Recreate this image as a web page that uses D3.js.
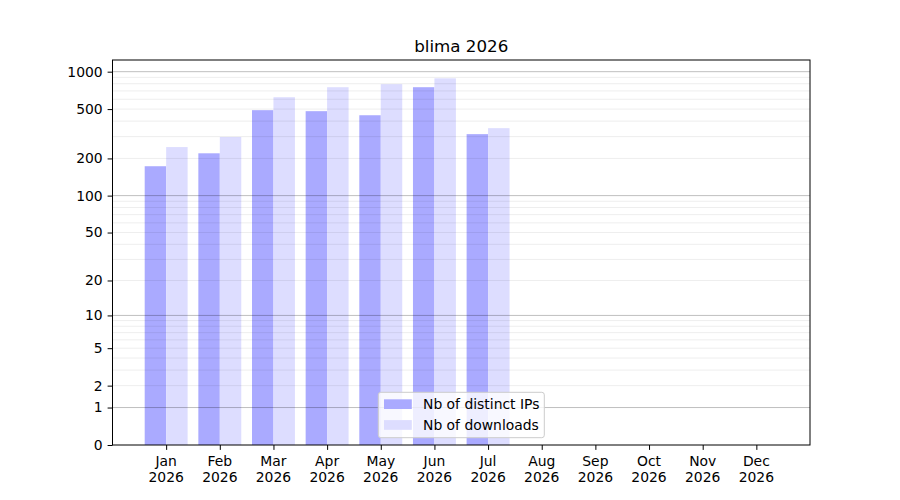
<!DOCTYPE html>
<html>
<head>
<meta charset="utf-8">
<script src="https://cdn.jsdelivr.net/npm/d3@7"></script>
<style>
  body { margin: 0; background: #fff; }
  text { font-family: "DejaVu Sans", sans-serif; fill: #000; }
</style>
</head>
<body>
<script>
// data
var months = ["Jan","Feb","Mar","Apr","May","Jun","Jul","Aug","Sep","Oct","Nov","Dec"];
var year = "2026";
var distinctIPs = [173, 220, 490, 481, 446, 750, 314];
var downloads = [247, 298, 623, 750, 793, 884, 351];
var yTicks = [0, 1, 2, 5, 10, 20, 50, 100, 200, 500, 1000];

var W = 900, H = 500;
var axLeft = 112.5, axRight = 810, axTop = 60, axBottom = 445;

var svg = d3.select("body").append("svg").attr("width", W).attr("height", H);

var x = d3.scaleLinear().domain([-1, 12]).range([axLeft, axRight]);

// log10(1+v) style axis, 5% headroom in transformed space
var vmax = d3.max(downloads.concat(distinctIPs));
var yTop = Math.expm1(1.05 * Math.log1p(vmax));
var y = d3.scaleSymlog().constant(1).domain([0, yTop]).range([axBottom, axTop]);

// bars
svg.append("g").selectAll("rect")
  .data(distinctIPs)
  .enter().append("rect")
  .attr("x", function(d, i) { return x(i - 0.4); })
  .attr("width", function(d, i) { return x(i) - x(i - 0.4); })
  .attr("y", function(d) { return y(d); })
  .attr("height", function(d) { return axBottom - y(d); })
  .attr("fill", "#aaaaff");

svg.append("g").selectAll("rect")
  .data(downloads)
  .enter().append("rect")
  .attr("x", function(d, i) { return x(i); })
  .attr("width", function(d, i) { return x(i + 0.4) - x(i); })
  .attr("y", function(d) { return y(d); })
  .attr("height", function(d) { return axBottom - y(d); })
  .attr("fill", "#ddddff");

// grid (drawn over the bars, as in the original)
var minor = [], major = [];
for (var p = 1; p <= 1000; p *= 10) {
  major.push(p);
  for (var k = 2; k <= 9; k++) {
    if (k * p < yTop) minor.push(k * p);
  }
}
var grid = svg.append("g");
grid.selectAll("line.minor").data(minor).enter().append("line")
  .attr("class", "minor")
  .attr("x1", axLeft).attr("x2", axRight)
  .attr("y1", function(d) { return y(d); })
  .attr("y2", function(d) { return y(d); })
  .attr("stroke", "#000").attr("stroke-opacity", 0.07).attr("stroke-width", 1);
grid.selectAll("line.major").data(major).enter().append("line")
  .attr("class", "major")
  .attr("x1", axLeft).attr("x2", axRight)
  .attr("y1", function(d) { return y(d); })
  .attr("y2", function(d) { return y(d); })
  .attr("stroke", "#000").attr("stroke-opacity", 0.25).attr("stroke-width", 1);

// frame
svg.append("rect")
  .attr("x", axLeft).attr("y", axTop)
  .attr("width", axRight - axLeft).attr("height", axBottom - axTop)
  .attr("fill", "none").attr("stroke", "#000").attr("stroke-width", 1);

// y axis
var yAxis = d3.axisLeft(y).tickValues(yTicks).tickFormat(d3.format("d")).tickSize(4.9).tickPadding(4.9);
var gy = svg.append("g").attr("transform", "translate(" + axLeft + ",0)").call(yAxis);
gy.select(".domain").remove();
gy.selectAll("text").style("font-size", "13.9px").attr("font-family", "DejaVu Sans");

// x axis
var xAxis = d3.axisBottom(x).tickValues(d3.range(12)).tickFormat("").tickSize(4.9);
var gx = svg.append("g").attr("transform", "translate(0," + axBottom + ")").call(xAxis);
gx.select(".domain").remove();
var xl = svg.append("g");
months.forEach(function(m, i) {
  var t = xl.append("text")
    .attr("x", x(i)).attr("y", 466)
    .attr("text-anchor", "middle")
    .style("font-size", "13.9px");
  t.append("tspan").attr("x", x(i)).text(m);
  t.append("tspan").attr("x", x(i)).attr("dy", 16.3).text(year);
});

// title
svg.append("text")
  .attr("x", (axLeft + axRight) / 2).attr("y", 52.3)
  .attr("text-anchor", "middle")
  .style("font-size", "16.7px")
  .text("blima " + year);

// legend
var lg = svg.append("g");
lg.append("rect")
  .attr("x", 378.3).attr("y", 392.3).attr("width", 166).attr("height", 45.4)
  .attr("rx", 2.5).attr("fill", "#fff").attr("fill-opacity", 0.8)
  .attr("stroke", "#cccccc").attr("stroke-width", 1);
var items = [["Nb of distinct IPs", "#aaaaff"], ["Nb of downloads", "#ddddff"]];
items.forEach(function(it, i) {
  lg.append("rect")
    .attr("x", 384).attr("y", 399.3 + i * 20.8)
    .attr("width", 27.8).attr("height", 9.7)
    .attr("fill", it[1]);
  lg.append("text")
    .attr("x", 423).attr("y", 409 + i * 20.8)
    .style("font-size", "13.9px")
    .text(it[0]);
});
</script>
</body>
</html>
